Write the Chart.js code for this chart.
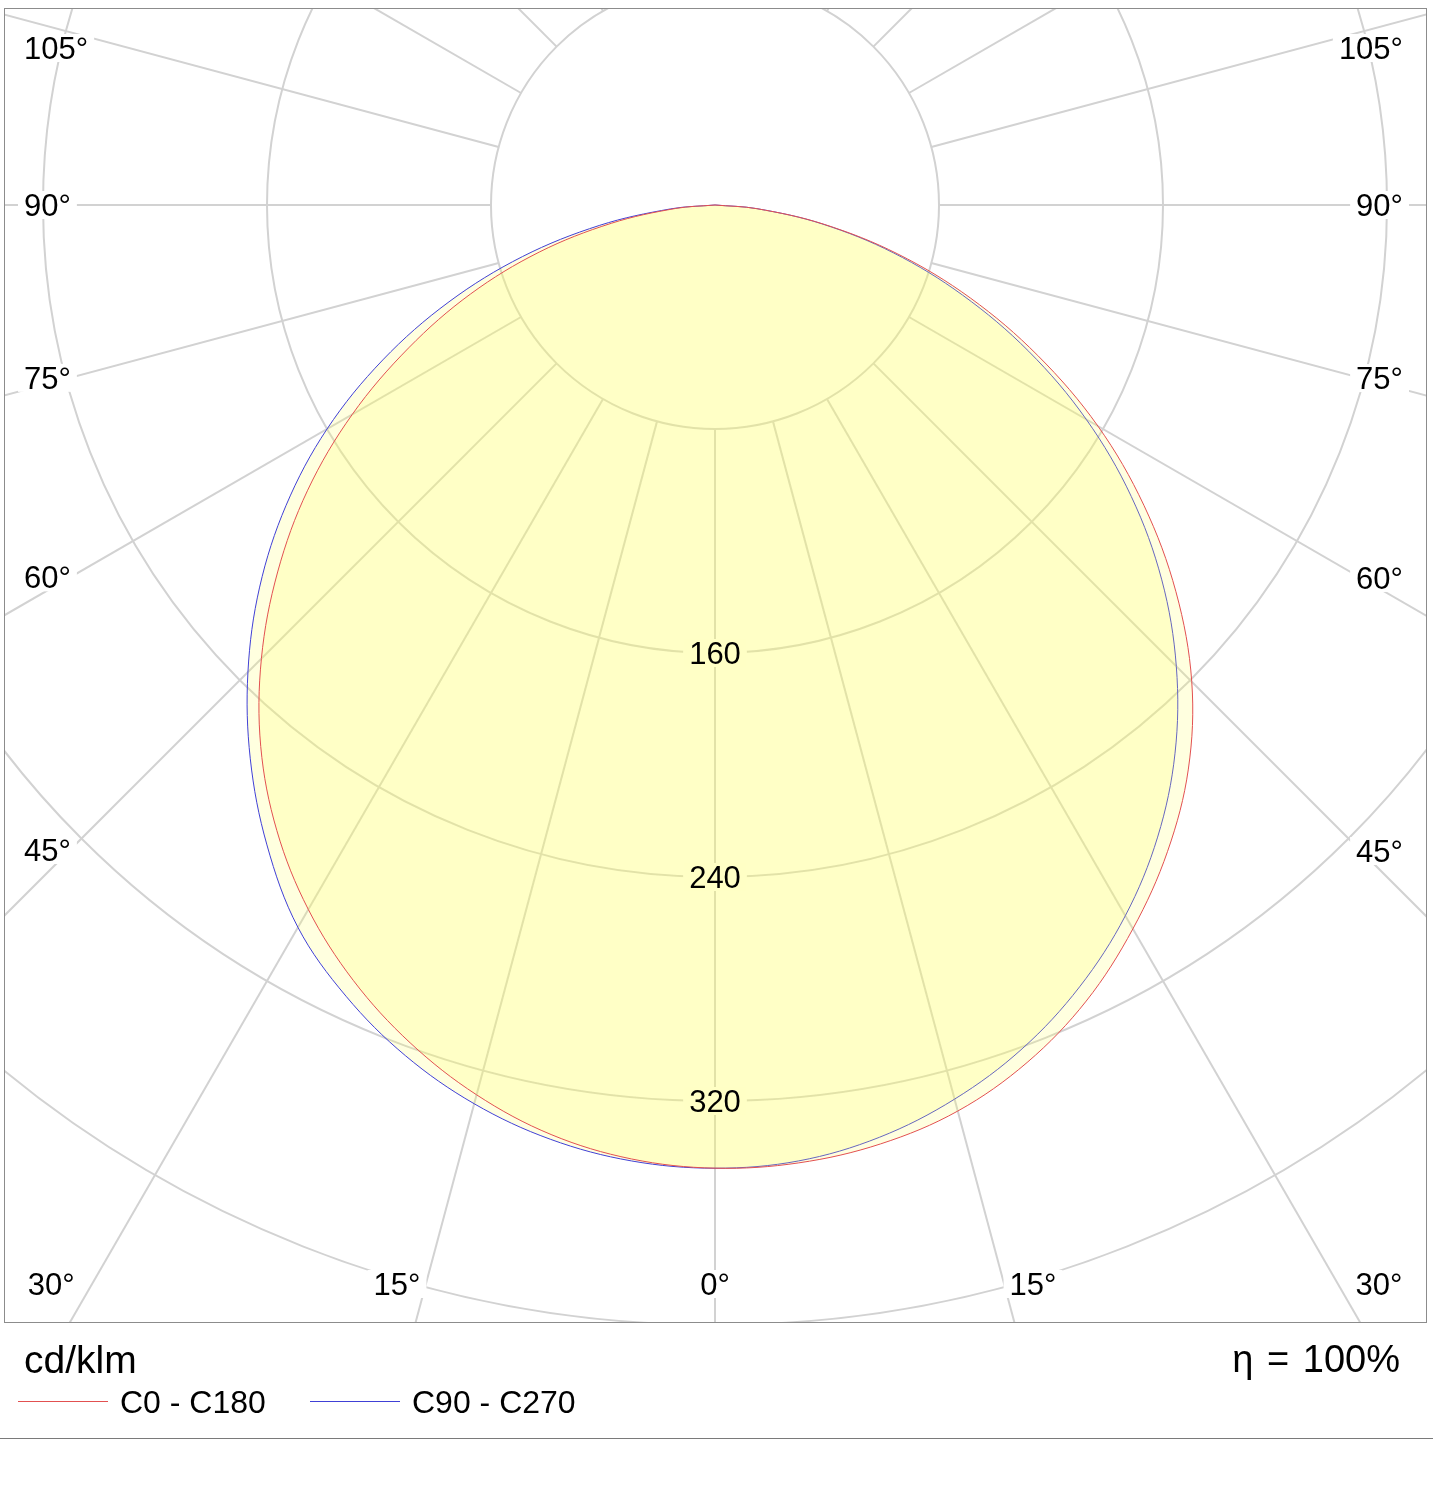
<!DOCTYPE html>
<html>
<head>
<meta charset="utf-8">
<script src="https://cdn.jsdelivr.net/npm/chart.js@4.4.0/dist/chart.umd.min.js"></script>
<style>
  body { margin: 0; background: #fff; font-family: "Liberation Sans", Arial, sans-serif; }
  #wrap { position: relative; width: 1433px; height: 1495px; overflow: hidden; }
  #ldc { position: absolute; left: 0; top: 0; }
  .txt { position: absolute; color: #000; white-space: nowrap; line-height: 1; }
  .key { position: absolute; height: 1px; width: 90px; }
  #rule { position: absolute; left: 0; top: 1438px; width: 1433px; height: 1px; background: #7a7a7a; }
</style>
</head>
<body>
<div id="wrap">
  <canvas id="ldc" width="1433" height="1495"></canvas>
  <div class="txt" style="left:24px; top:1340px; font-size:39px;">cd/klm</div>
  <div class="txt" style="right:33px; top:1340px; font-size:38px; word-spacing:3px;">&eta; = 100%</div>
  <div class="key" style="left:18px; top:1401px; background:rgb(226, 80, 80);"></div>
  <div class="txt" style="left:120px; top:1386px; font-size:32px;">C0 - C180</div>
  <div class="key" style="left:310px; top:1401px; background:rgb(64, 64, 214);"></div>
  <div class="txt" style="left:412px; top:1386px; font-size:32px;">C90 - C270</div>
  <div id="rule"></div>
</div>
<script>
// gamma angles (0 = straight down) and intensities in cd/klm per half plane
const gammaDeg = [0, 5, 10, 15, 20, 25, 30, 35, 40, 45, 50, 55, 60, 65, 70, 75, 80, 85, 90];
const c0   = [344, 343.4, 340.5, 335.0, 325.9, 313.7, 298.5, 281.8, 263.0, 240.8, 214.9, 187.0, 157.9, 127.2, 97.0, 67.6, 39.4, 15.0, 0];
const c180 = [344, 342.0, 337.1, 329.0, 318.4, 305.6, 290.5, 272.8, 252.4, 229.1, 203.9, 177.6, 149.6, 120.7, 92.9, 65.0, 37.6, 14.1, 0];
const c90  = [344, 342.7, 338.1, 330.6, 320.7, 308.1, 293.1, 275.6, 255.6, 233.0, 208.3, 181.5, 153.1, 123.6, 94.1, 65.9, 38.8, 15.0, 0];
const c270 = [344, 342.7, 338.8, 332.3, 323.3, 311.8, 297.9, 279.0, 258.2, 235.9, 212.3, 187.0, 160.0, 130.9, 101.1, 71.2, 41.8, 15.9, 0];

const ringValues = [80, 160, 240, 320, 400, 480];
const ringLabels = [160, 240, 320];
const spokeAngles = [0, 15, 30, 45, 60, 75, 90, 105, 120, 135, 150, 165, 180];
const angleLabels = [0, 15, 30, 45, 60, 75, 90, 105];

const RED = 'rgb(226, 80, 80)';
const BLUE = 'rgb(64, 64, 214)';
const FILL = 'rgba(255, 255, 96, 0.2)';
const GRID = '#d2d2d2';
const LABEL_FONT = '31px "Liberation Sans", Arial, sans-serif';

// layout of the plot box on the page
const PLOT = { left: 4, top: 8, right: 1427, bottom: 1323 };
const ORIGIN = { x: 715, y: 205 };
const PX_PER_CD = 2.8;

function toXY(side, g, v) {
  const r = g * Math.PI / 180;
  return { x: side * v * Math.sin(r), y: -v * Math.cos(r) };
}

// closed curve: left half plane from 90 down to 0, then right half back up to 90
function planeCurve(left, right) {
  const pts = [];
  for (let i = gammaDeg.length - 1; i >= 0; i--) pts.push(toXY(-1, gammaDeg[i], left[i]));
  for (let i = 1; i < gammaDeg.length; i++) pts.push(toXY(1, gammaDeg[i], right[i]));
  return pts;
}

function labelBox(ctx, text, x, y, align) {
  const w = ctx.measureText(text).width;
  let x0 = x;
  if (align === 'center') x0 = x - w / 2;
  if (align === 'right') x0 = x - w;
  return { x: x0 - 6, y: y - 14, w: w + 12, h: 28 };
}

function angleLabelPos(g, side, a, cx, cy) {
  const rad = g * Math.PI / 180;
  const dx = Math.sin(rad), dy = Math.cos(rad);
  if (g === 0) return { x: cx, y: a.bottom - 39, align: 'center' };
  if (g >= 45) {
    const xEdge = side < 0 ? a.left + 66 : a.right - 66;
    const t = Math.abs(xEdge - cx) / dx;
    const yy = Math.max(cy + t * dy, a.top + 40);
    return { x: side < 0 ? a.left + 20 : a.right - 24, y: yy, align: side < 0 ? 'left' : 'right' };
  }
  // bottom edge: text sits just inside where the spoke leaves the frame
  const run = (a.bottom - cy) * dx / dy;
  return { x: cx + side * (run - 5), y: a.bottom - 39, align: side < 0 ? 'right' : 'left' };
}

function collectLabels(chart) {
  const { chartArea: a, scales: { x, y } } = chart;
  const cx = x.getPixelForValue(0), cy = y.getPixelForValue(0);
  const out = [];
  angleLabels.forEach(g => {
    const sides = g === 0 ? [1] : [-1, 1];
    sides.forEach(s => {
      const p = angleLabelPos(g, s, a, cx, cy);
      out.push({ text: g + '°', x: p.x, y: p.y, align: p.align });
    });
  });
  ringLabels.forEach(v => {
    out.push({ text: String(v), x: cx, y: y.getPixelForValue(-v), align: 'center' });
  });
  return out;
}

const polarGrid = {
  id: 'polarGrid',
  beforeDatasetsDraw(chart) {
    const { ctx, chartArea: a, scales: { x, y } } = chart;
    const cx = x.getPixelForValue(0), cy = y.getPixelForValue(0);
    const k = x.getPixelForValue(1) - cx;
    ctx.save();
    ctx.beginPath();
    ctx.rect(a.left, a.top, a.right - a.left, a.bottom - a.top);
    ctx.clip();
    ctx.strokeStyle = GRID;
    ctx.lineWidth = 2;
    ringValues.forEach(v => {
      ctx.beginPath();
      ctx.arc(cx, cy, v * k, 0, Math.PI * 2);
      ctx.stroke();
    });
    const r0 = ringValues[0] * k, r1 = 3000;
    spokeAngles.forEach(g => {
      const sides = (g === 0 || g === 180) ? [1] : [-1, 1];
      const rad = g * Math.PI / 180;
      sides.forEach(s => {
        const dx = s * Math.sin(rad), dy = Math.cos(rad);
        ctx.beginPath();
        ctx.moveTo(cx + dx * r0, cy + dy * r0);
        ctx.lineTo(cx + dx * r1, cy + dy * r1);
        ctx.stroke();
      });
    });
    // white boxes behind the labels
    ctx.font = LABEL_FONT;
    ctx.fillStyle = '#fff';
    collectLabels(chart).forEach(l => {
      const b = labelBox(ctx, l.text, l.x, l.y, l.align);
      ctx.fillRect(b.x, b.y, b.w, b.h);
    });
    ctx.restore();
  },
  afterDatasetsDraw(chart) {
    const { ctx, chartArea: a } = chart;
    ctx.save();
    ctx.font = LABEL_FONT;
    ctx.fillStyle = '#000';
    ctx.textBaseline = 'alphabetic';
    collectLabels(chart).forEach(l => {
      ctx.textAlign = l.align;
      ctx.fillText(l.text, l.x, l.y + 11);
    });
    ctx.strokeStyle = '#8c8c8c';
    ctx.lineWidth = 1;
    ctx.strokeRect(a.left + 0.5, a.top + 0.5, a.right - a.left - 1, a.bottom - a.top - 1);
    ctx.restore();
  }
};

new Chart(document.getElementById('ldc'), {
  type: 'scatter',
  data: {
    datasets: [
      {
        label: 'C0 - C180',
        data: planeCurve(c180, c0),
        showLine: true,
        borderColor: RED,
        backgroundColor: FILL,
        borderWidth: 1,
        pointRadius: 0,
        tension: 0.35,
        fill: 'shape'
      },
      {
        label: 'C90 - C270',
        data: planeCurve(c270, c90),
        showLine: true,
        borderColor: BLUE,
        backgroundColor: FILL,
        borderWidth: 1,
        pointRadius: 0,
        tension: 0.35,
        fill: 'shape'
      }
    ]
  },
  options: {
    responsive: false,
    animation: false,
    events: [],
    layout: {
      padding: { left: PLOT.left, top: PLOT.top, right: 1433 - PLOT.right, bottom: 1495 - PLOT.bottom }
    },
    scales: {
      x: {
        type: 'linear',
        display: false,
        min: -(ORIGIN.x - PLOT.left) / PX_PER_CD,
        max: (PLOT.right - ORIGIN.x) / PX_PER_CD
      },
      y: {
        type: 'linear',
        display: false,
        min: -(PLOT.bottom - ORIGIN.y) / PX_PER_CD,
        max: (ORIGIN.y - PLOT.top) / PX_PER_CD
      }
    },
    plugins: {
      legend: { display: false },
      tooltip: { enabled: false }
    }
  },
  plugins: [polarGrid]
});
</script>
</body>
</html>
